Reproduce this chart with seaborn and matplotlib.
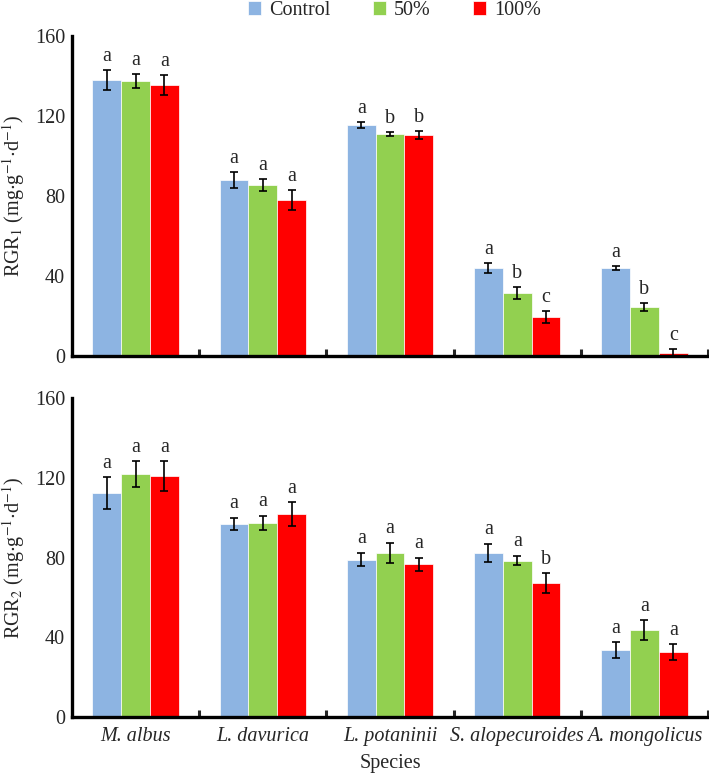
import matplotlib
matplotlib.use('Agg')
import matplotlib.pyplot as plt
import seaborn as sns
import pandas as pd
import numpy as np

species = ['M. albus', 'L. davurica', 'L. potaninii', 'S. alopecuroides', 'A. mongolicus']
treatments = ['Control', '50%', '100%']
colors = ['#8DB4E2', '#92D050', '#FF0000']

# RGR1 (top panel), rows = species, cols = treatments
rgr1 = [[138.0, 137.5, 135.5],
        [88.0, 85.5, 78.0],
        [115.5, 111.0, 110.5],
        [44.0, 31.5, 19.5],
        [44.0, 24.5, 1.5]]
rgr1_err = [[5.0, 3.5, 5.0],
            [4.0, 3.0, 5.0],
            [1.5, 1.0, 2.0],
            [2.5, 3.0, 3.0],
            [1.0, 2.0, 2.0]]
rgr1_sig = [['a', 'a', 'a'],
            ['a', 'a', 'a'],
            ['a', 'b', 'b'],
            ['a', 'b', 'c'],
            ['a', 'b', 'c']]

# RGR2 (bottom panel)
rgr2 = [[112.5, 122.0, 121.0],
        [97.0, 97.5, 102.0],
        [79.0, 82.5, 76.5],
        [82.5, 78.5, 67.0],
        [33.5, 43.5, 32.5]]
rgr2_err = [[8.0, 6.5, 7.5],
            [3.0, 3.5, 6.0],
            [3.5, 5.0, 3.5],
            [4.5, 2.5, 5.0],
            [4.0, 5.0, 4.0]]
rgr2_sig = [['a', 'a', 'a'],
            ['a', 'a', 'a'],
            ['a', 'a', 'a'],
            ['a', 'a', 'b'],
            ['a', 'a', 'a']]


def to_frame(vals, errs, sigs):
    rows = []
    for i, sp in enumerate(species):
        for j, tr in enumerate(treatments):
            rows.append({'Species': sp, 'Treatment': tr, 'value': vals[i][j],
                         'err': errs[i][j], 'sig': sigs[i][j]})
    return pd.DataFrame(rows)


sns.set_style('white')
plt.rcParams['font.family'] = ['Liberation Serif', 'DejaVu Serif']
plt.rcParams['mathtext.fontset'] = 'stix'

fig = plt.figure(figsize=(7.09, 7.76), dpi=100)
ax1 = fig.add_axes([0.1016, 0.5412, 0.897, 0.4124])
ax2 = fig.add_axes([0.1016, 0.0760, 0.897, 0.4111])

FS = 14.5


def draw(ax, df, ylabel, show_x):
    sns.barplot(data=df, x='Species', y='value', hue='Treatment', order=species,
                hue_order=treatments, palette=colors, saturation=1, width=0.68,
                errorbar=None, edgecolor='white', linewidth=0.5, ax=ax, legend=show_x)
    # bars come out in hue order, each covering all species
    k = 0
    for j, tr in enumerate(treatments):
        for i, sp in enumerate(species):
            p = ax.patches[k]
            k += 1
            row = df[(df.Species == sp) & (df.Treatment == tr)].iloc[0]
            xc = p.get_x() + p.get_width() / 2
            ax.errorbar(xc, row.value, yerr=row.err, fmt='none', ecolor='black',
                        elinewidth=1.2, capsize=3, capthick=1.2)
            ax.annotate(row.sig, (xc, row.value + row.err), xytext=(0, 3),
                        textcoords='offset points', ha='center', va='bottom',
                        fontsize=FS)
    ax.set_ylim(0, 160)
    ax.set_xlim(-0.5, 4.5)
    ax.set_yticks([0, 40, 80, 120, 160])
    ax.set_xticks(np.arange(0.5, 5.0, 1.0), minor=True)
    ax.tick_params(axis='y', which='major', direction='in', length=5, width=2.2,
                   labelsize=FS, pad=5)
    ax.tick_params(axis='x', which='minor', direction='in', length=5, width=2.2, bottom=True)
    ax.tick_params(axis='x', which='major', length=0, labelsize=FS, pad=7)
    for s in ['top', 'right']:
        ax.spines[s].set_visible(False)
    for s in ['left', 'bottom']:
        ax.spines[s].set_linewidth(2.4)
        ax.spines[s].set_color('black')
    ax.set_ylabel(ylabel, fontsize=FS, labelpad=6)
    if show_x:
        ax.set_xlabel('Species', fontsize=FS, labelpad=6)
        for lab in ax.get_xticklabels():
            lab.set_fontstyle('italic')
    else:
        ax.set_xlabel('')
        ax.set_xticklabels([])


draw(ax1, to_frame(rgr1, rgr1_err, rgr1_sig),
     r'RGR$_1$ (mg$\cdot$g$^{-1}$$\cdot$d$^{-1}$)', False)
draw(ax2, to_frame(rgr2, rgr2_err, rgr2_sig),
     r'RGR$_2$ (mg$\cdot$g$^{-1}$$\cdot$d$^{-1}$)', True)

handles, labels = ax2.get_legend_handles_labels()
ax2.get_legend().remove()
leg = fig.legend(handles, labels, loc='upper center', bbox_to_anchor=(0.556, 1.022), ncol=3,
                 frameon=False, fontsize=FS, handlelength=0.65, handleheight=0.65,
                 handletextpad=0.4, columnspacing=2.1)
for t in leg.get_texts():
    t.set_fontfamily('Liberation Serif')

fig.savefig('out.png', dpi=100)
